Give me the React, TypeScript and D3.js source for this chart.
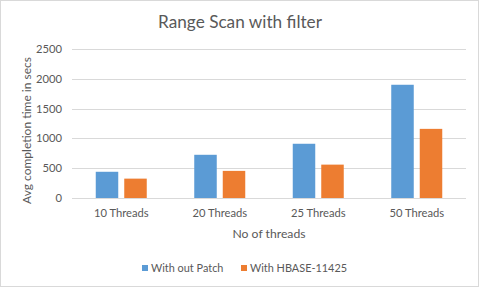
import React from "react";
import * as d3 from "d3";

const categories = ["10 Threads", "20 Threads", "25 Threads", "50 Threads"];
const seriesNames = ["With out Patch", "With HBASE-11425"];
const withoutPatch = [440, 725, 910, 1900];
const withPatch = [325, 455, 560, 1160];
const yTicks = [0, 500, 1000, 1500, 2000, 2500];
const colors = ["#5B9BD5", "#ED7D31"];

const W = 480;
const H = 288;
const FONT = "Lato, 'Open Sans', sans-serif";
const TXT = "#595959";

export default function App() {
  const plot = { left: 72, right: 466, top: 49, bottom: 198 };
  const x = d3.scaleBand<string>().domain(categories).range([plot.left, plot.right]);
  const y = d3.scaleLinear().domain([0, 2500]).range([plot.bottom, plot.top]);
  const barW = 22.5;
  const gap = 5;
  const series = [withoutPatch, withPatch];

  return (
    <svg width={W} height={H} style={{ position: "absolute", left: 0, top: 0 }} fontFamily={FONT}>
      <rect x={0} y={0} width={W} height={H} fill="#fff" />
      <rect x={0.5} y={0.5} width={478} height={286} fill="none" stroke="#D9D9D9" />
      <text x={240} y={28} textAnchor="middle" fontSize={17.2} fill={TXT}>
        Range Scan with filter
      </text>
      {yTicks.map((t) => (
        <g key={t}>
          <line x1={plot.left} x2={plot.right} y1={Math.round(y(t)) + 0.5} y2={Math.round(y(t)) + 0.5} stroke="#D9D9D9" />
          <text x={62} y={y(t) + 4} textAnchor="end" fontSize={11.2} fill={TXT}>
            {t}
          </text>
        </g>
      ))}
      {categories.map((c, i) => {
        const cx = x(c)! + x.bandwidth() / 2;
        return (
          <g key={c}>
            {series.map((s, j) => {
              const bx = j === 0 ? cx - gap / 2 - barW - 0.5 : cx + gap / 2 + 0.5;
              return (
                <rect key={j} x={bx} y={y(s[i])} width={barW} height={y(0) - y(s[i])} fill={colors[j]} />
              );
            })}
            <text x={cx} y={217} textAnchor="middle" fontSize={11.2} fill={TXT}>
              {c}
            </text>
          </g>
        );
      })}
      <text x={(plot.left + plot.right) / 2} y={238} textAnchor="middle" fontSize={12.2} fill={TXT}>
        No of threads
      </text>
      <text transform={`translate(31,${(plot.top + plot.bottom) / 2 + 7}) rotate(-90)`} textAnchor="middle" fontSize={12} fill={TXT}>
        Avg completion time in secs
      </text>
      <g>
        <rect x={142} y={265} width={6} height={6} fill={colors[0]} />
        <text x={151} y={272} fontSize={10.9} fill={TXT}>{seriesNames[0]}</text>
        <rect x={241} y={265} width={6} height={6} fill={colors[1]} />
        <text x={250} y={272} fontSize={10.9} fill={TXT}>{seriesNames[1]}</text>
      </g>
    </svg>
  );
}
